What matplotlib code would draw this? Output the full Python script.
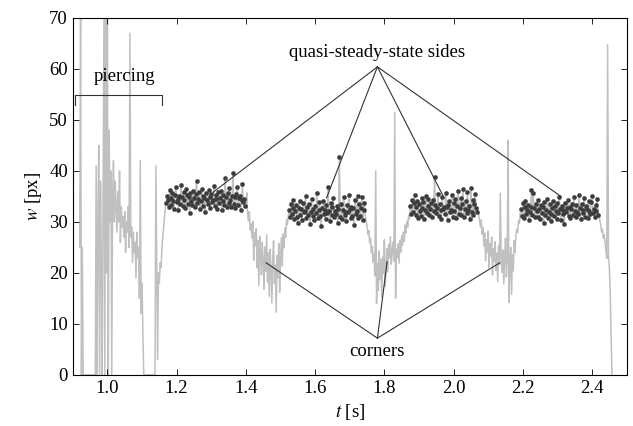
import matplotlib
matplotlib.use("Agg")
import matplotlib.pyplot as plt
import numpy as np

plt.rcParams['font.family'] = ['Liberation Serif', 'DejaVu Serif']
plt.rcParams['mathtext.fontset'] = 'stix'
plt.rcParams['font.size'] = 13.5

# sampling of the width signal
T0 = 0.92
DT = 0.0025

# signal pieces (w in px)
piercing = [25, 70, 0, 25, 0, 0, 0, 0, 0, 0, 0, 0, 0, 0, 0, 0, 0, 0, 0,
            41, 0, 30, 45, 0, 38, 22, 0, 36, 70, 0, 70, 20, 70, 0, 48, 30, 40, 0,
            35, 42, 30, 38, 33, 28, 36, 30, 40, 26, 33, 29, 31, 27, 32, 24, 30, 28, 33, 25,
            67, 27, 29, 22, 28, 24, 26, 19, 28, 23, 25, 15, 42, 12, 18, 8, 0,
            0, 0, 0, 0, 0, 0, 0, 0, 0, 0, 0, 0, 0,
            41, 22, 3, 20, 18, 22, 21, 25, 27, 29, 31, 33]

side1 = [33.8, 35.1, 34.2, 32.9, 36.2, 34.6, 33.4, 35.7, 34.0, 32.6,
         35.3, 36.8, 33.9, 34.5, 32.4, 35.0, 33.6, 37.2, 34.8, 33.1,
         35.9, 34.3, 32.7, 36.4, 35.2, 33.5, 34.9, 31.8, 35.6, 34.1,
         33.3, 36.1, 34.7, 32.9, 35.4, 38.1, 33.7, 34.4, 35.8, 32.5,
         34.0, 36.5, 33.2, 35.1, 34.6, 31.9, 35.7, 34.2, 33.6, 36.3,
         34.8, 32.8, 35.5, 33.9, 34.3, 37.0, 33.1, 35.2, 34.5, 32.6,
         35.9, 33.8, 34.7, 36.0, 32.3, 35.3, 34.1, 33.4, 38.6, 34.9,
         32.9, 35.6, 33.7, 36.7, 34.2, 33.0, 35.1, 39.6, 33.5, 34.8,
         32.7, 35.4, 36.9, 33.3, 34.6, 35.0, 32.4, 34.3, 37.4, 33.9,
         34.5, 33.2]

corner1 = [33.0, 35.7, 31.5, 30.2, 32.0, 28.4, 29.6, 26.8, 30.1, 22.5,
           27.9, 25.3, 28.7, 21.0, 26.4, 17.5, 27.2, 23.8, 19.6, 26.0,
           22.4, 16.8, 25.1, 20.3, 27.5, 18.2, 23.9, 15.4, 24.6, 20.8,
           14.1, 22.7, 26.3, 17.9, 21.5, 12.3, 23.4, 19.0, 25.8, 16.2,
           22.0, 26.9, 21.3, 27.6, 24.9, 28.8, 27.0, 30.4, 29.5, 31.2]

side2 = [32.4, 30.9, 33.6, 31.5, 32.8, 34.2, 30.6, 32.1, 33.3, 31.0,
         29.8, 32.7, 34.0, 31.3, 32.5, 30.4, 33.8, 31.9, 32.2, 35.1,
         30.7, 32.9, 31.4, 33.5, 29.5, 32.0, 34.4, 31.2, 32.6, 30.3,
         33.1, 31.7, 35.6, 30.8, 32.3, 33.9, 31.1, 29.2, 32.8, 34.1,
         31.6, 32.4, 30.5, 33.4, 31.8, 36.9, 32.1, 30.2, 33.7, 31.3,
         32.9, 34.6, 30.9, 32.2, 31.5, 33.2, 29.7, 32.6, 42.7, 31.0,
         33.6, 30.6, 32.4, 34.8, 31.4, 32.0, 30.1, 33.3, 31.9, 35.3,
         32.5, 30.7, 33.0, 31.2, 32.8, 29.4, 34.3, 31.6, 32.2, 35.0,
         30.8, 33.5, 31.1, 32.7, 34.9, 30.4, 32.3, 33.8]

corner2 = [31.2, 30.0, 29.1, 27.5, 28.3, 25.9, 26.8, 24.0, 25.2, 22.1,
           23.7, 19.4, 40.0, 14.0, 21.8, 16.5, 24.3, 18.7, 22.6, 15.2,
           23.1, 19.9, 26.5, 17.3, 21.4, 24.8, 20.2, 25.6, 22.9, 27.1,
           21.7, 24.2, 26.0, 22.3, 51.5, 15.0, 24.6, 23.0, 25.7, 21.9,
           26.4, 24.1, 27.3, 25.4, 28.0, 26.2, 29.4, 27.8, 30.1, 29.0,
           31.3, 30.6]

side3 = [33.1, 31.6, 34.3, 32.0, 33.7, 35.2, 31.4, 32.9, 34.0, 30.8,
         33.5, 32.2, 31.1, 34.6, 32.7, 33.9, 30.5, 32.4, 35.0, 31.8,
         33.2, 34.5, 31.3, 32.6, 33.8, 30.9, 34.2, 32.1, 38.8, 33.4,
         31.7, 32.8, 35.4, 31.2, 33.6, 32.3, 30.6, 34.8, 32.5, 33.0,
         31.5, 35.7, 32.9, 30.3, 33.3, 34.1, 31.9, 32.4, 35.3, 31.0,
         33.7, 32.2, 34.4, 30.7, 33.1, 36.0, 31.6, 32.8, 34.7, 31.3,
         33.5, 36.4, 30.9, 32.6, 34.0, 31.8, 35.9, 32.3, 33.2, 30.5,
         36.6, 32.0, 34.3, 31.4, 33.6, 35.5, 32.7, 31.9]

corner3 = [32.8, 31.5, 30.2, 29.0, 30.4, 27.6, 28.9, 25.3, 27.8, 22.4,
           26.5, 24.1, 28.2, 21.0, 25.7, 23.3, 27.0, 19.6, 24.8, 22.2,
           26.1, 20.5, 23.9, 18.3, 25.4, 21.6, 35.6, 22.8, 20.1, 24.5,
           17.8, 23.0, 26.8, 19.2, 22.6, 46.0, 14.2, 21.3, 25.0, 15.8,
           23.6, 20.4, 26.3, 24.0, 27.4, 28.6, 27.9, 30.3, 29.7, 31.6]

side4 = [32.6, 31.2, 33.8, 30.7, 32.9, 34.1, 31.5, 32.3, 33.4, 30.4,
         31.9, 33.0, 36.3, 31.4, 35.6, 32.8, 30.9, 33.6, 32.1, 31.0,
         34.2, 32.5, 30.6, 33.3, 31.7, 32.9, 29.8, 33.9, 31.3, 32.4,
         34.5, 30.8, 32.0, 33.5, 31.6, 30.2, 32.7, 34.0, 31.1, 33.2,
         32.2, 30.5, 33.7, 31.8, 34.8, 32.6, 30.3, 33.1, 31.5, 32.4,
         29.6, 33.8, 31.9, 32.7, 34.3, 31.2, 33.0, 30.7, 32.5, 33.6,
         31.4, 34.9, 32.1, 30.9, 33.3, 32.0, 31.6, 35.2, 32.8, 30.6,
         33.5, 31.7, 32.3, 34.6, 31.0, 33.1, 32.5, 30.8, 34.1, 32.2,
         31.5, 33.9, 35.0, 31.8, 32.6, 30.9, 33.4, 32.1, 34.4, 31.3]

tail = [31.5, 30.2, 29.4, 28.0, 28.6, 26.8, 27.5, 26.0, 24.5, 22.8,
        64.7, 23.5, 21.0, 16.0, 8.0, 0.0]

pieces = [piercing, side1, corner1, side2, corner2, side3, corner3, side4, tail]
is_side = [False, True, False, True, False, True, False, True, False]

w = np.concatenate([np.asarray(p, dtype=float) for p in pieces])
t = T0 + DT * np.arange(len(w))

# annotation anchors (t, w)
sides_label = (1.78, 63.3)
sides_hub = (1.78, 60.4)
sides_ends = [(1.305, 35.8), (1.633, 34.7), (1.968, 35.3), (2.31, 35.0)]
corners_label = (1.78, 4.5)
corners_hub = (1.78, 7.2)
corners_ends = [(1.458, 22.0), (1.808, 22.2), (2.134, 22.0)]

fig = plt.figure(figsize=(6.33, 4.26), dpi=100)
ax = fig.add_axes([0.115, 0.12, 0.875, 0.838])

ax.plot(t, w, color='#c0c0c0', lw=1.1, zorder=1)

start = 0
for p, s in zip(pieces, is_side):
    stop = start + len(p)
    if s:
        ax.plot(t[start:stop], w[start:stop], 'o', ms=3.0, color='#3c3c3c',
                mec='#3c3c3c', mew=0.3, zorder=2)
    start = stop

line_kw = dict(color='#333333', lw=0.8, zorder=3)

# piercing bracket
ax.plot([0.9075, 0.9075, 1.158, 1.158], [52.9, 54.9, 54.9, 52.9], **line_kw)
ax.text(1.05, 58.6, 'piercing', ha='center', va='center')

for xe, ye in sides_ends:
    ax.plot([sides_hub[0], xe], [sides_hub[1], ye], **line_kw)
ax.text(*sides_label, 'quasi-steady-state sides', ha='center', va='center')

for xe, ye in corners_ends:
    ax.plot([corners_hub[0], xe], [corners_hub[1], ye], **line_kw)
ax.text(*corners_label, 'corners', ha='center', va='center')

ax.set_xlim(0.9, 2.5)
ax.set_ylim(0, 70)
ax.set_xticks([1.0, 1.2, 1.4, 1.6, 1.8, 2.0, 2.2, 2.4])
ax.set_yticks(range(0, 71, 10))
ax.tick_params(direction='in', top=True, right=True, length=4, width=0.6, labelsize=13.5)
for sp in ax.spines.values():
    sp.set_linewidth(0.8)

ax.set_xlabel('$t$ [s]')
ax.set_ylabel('$w$ [px]')

fig.savefig('out.png', dpi=100)
